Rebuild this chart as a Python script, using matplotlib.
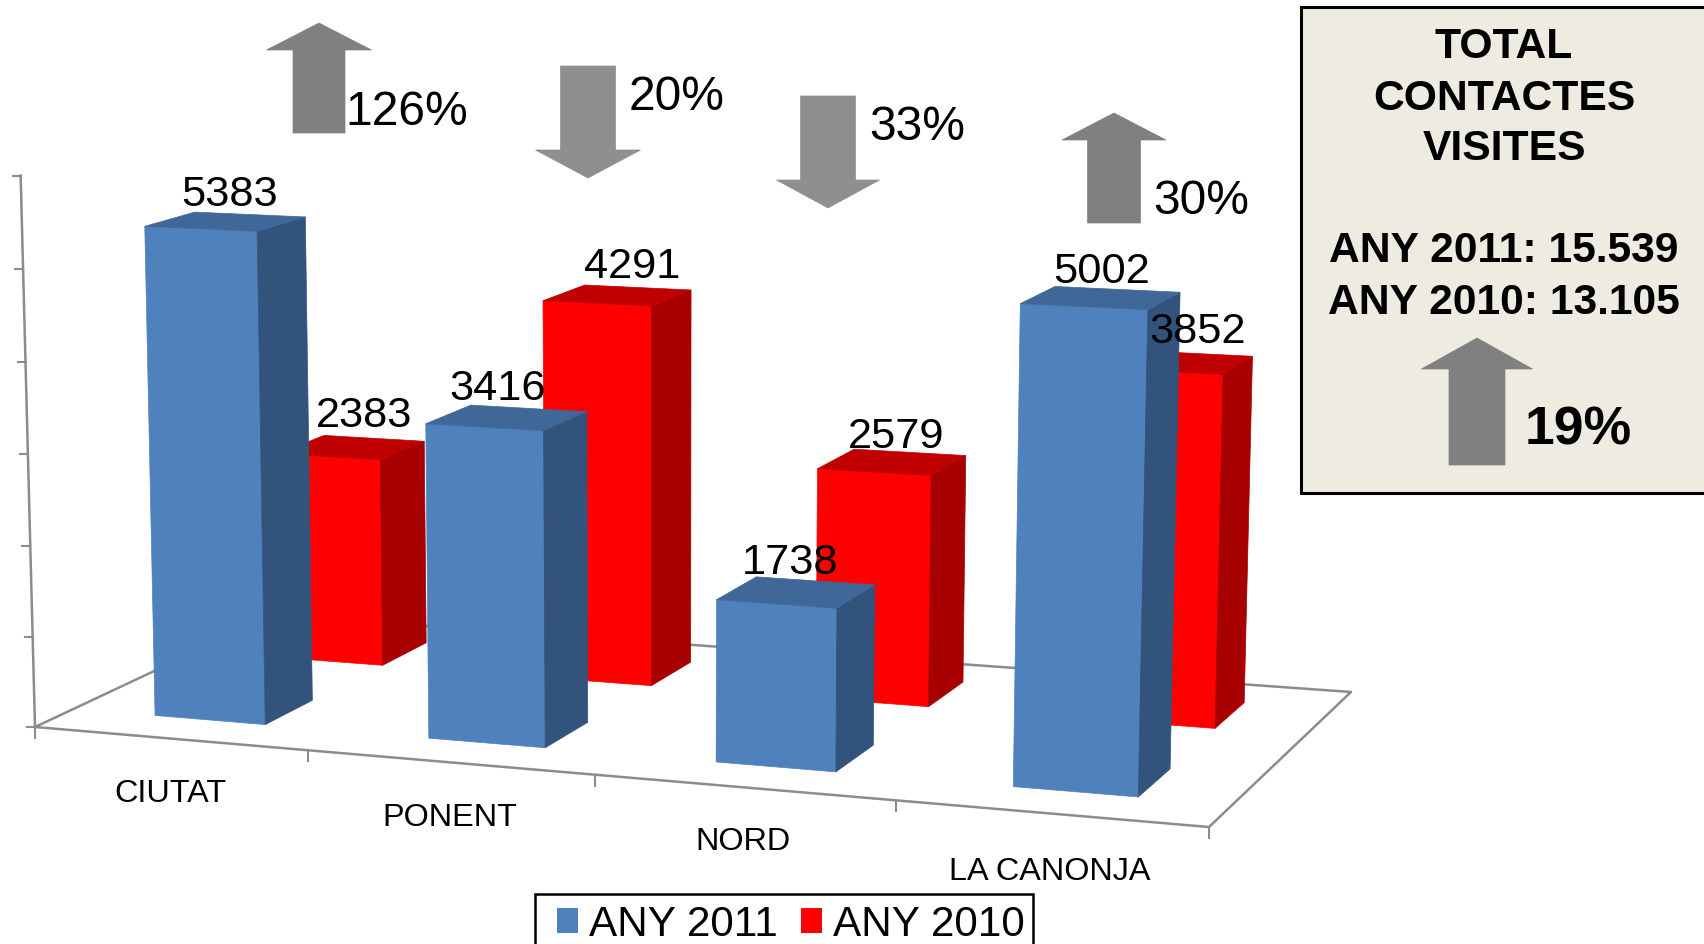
import numpy as np
import matplotlib
matplotlib.use("Agg")
import matplotlib.pyplot as plt
from matplotlib.patches import Polygon, Rectangle

plt.rcParams['font.family'] = ['Liberation Sans', 'DejaVu Sans']

categories = ["CIUTAT", "PONENT", "NORD", "LA CANONJA"]
values_2011 = [5383, 3416, 1738, 5002]
values_2010 = [2383, 4291, 2579, 3852]
series_names = ["ANY 2011", "ANY 2010"]
changes = ["126%", "20%", "33%", "30%"]
change_up = [True, False, False, True]
panel_lines = ["TOTAL", "CONTACTES", "VISITES", "ANY 2011: 15.539", "ANY 2010: 13.105"]
panel_change = "19%"
z_ticks = [0, 1000, 2000, 3000, 4000, 5000, 6000]

# floor and vertical axis of the fake 3d box, in pixels
H = np.array([[259.966, 266.993, 35.0],
              [2.0613, -47.929, 727.0],
              [-0.027737, 0.104181, 1.0]])
Z_COL = np.array([-0.00242928, -0.0910994, -3.6555e-06])

BLUE = ("#4f81bd", "#32537c", "#3f6797")
RED = ("#ff0000", "#a60000", "#c00000")
AXIS_GREY = "#8c8c8c"
TEXT_DY = 3.5  # Liberation sits a bit high with va=center


def project(u, v, z=0):
    # the original gets slightly less tall to the right than a pure projection
    z = z * (1.016 - 0.0075 * u)
    p = H @ np.array([u, v, 1.0]) + z * Z_COL
    return p[0] / p[2], p[1] / p[2]


def draw_bar(ax, u0, u1, value, v0, v1, colors):
    front = [project(u0, v0), project(u1, v0), project(u1, v0, value), project(u0, v0, value)]
    side = [project(u1, v0), project(u1, v1), project(u1, v1, value), project(u1, v0, value)]
    top = [project(u0, v0, value), project(u1, v0, value), project(u1, v1, value), project(u0, v1, value)]
    for pts, col in zip([front, side, top], colors):
        ax.add_patch(Polygon(pts, closed=True, facecolor=col, edgecolor=col, linewidth=0.5))
    return project((u0 + u1) / 2, (v0 + v1) / 2, value)


def draw_arrow(ax, cx, y_tip, y_neck, y_end, head_w, shaft_w, color):
    pts = [(cx, y_tip), (cx + head_w / 2, y_neck), (cx + shaft_w / 2, y_neck),
           (cx + shaft_w / 2, y_end), (cx - shaft_w / 2, y_end), (cx - shaft_w / 2, y_neck),
           (cx - head_w / 2, y_neck)]
    ax.add_patch(Polygon(pts, closed=True, facecolor=color, edgecolor=color, linewidth=0.5, zorder=3))


fig = plt.figure(figsize=(17.04, 9.44), dpi=100)
ax = fig.add_axes([0, 0, 1, 1])
ax.set_xlim(0, 1704)
ax.set_ylim(944, 0)
ax.axis("off")

# floor outline
floor = [project(0, 0), project(4, 0), project(4, 1), project(0, 1), project(0, 0)]
ax.plot(*zip(*floor), color=AXIS_GREY, lw=1.8, zorder=1)

# vertical axis and its ticks
ax.plot(*zip(project(0, 0, z_ticks[0]), project(0, 0, z_ticks[-1])), color=AXIS_GREY, lw=1.8, zorder=1)
for z in z_ticks:
    x, y = project(0, 0, z)
    ax.plot([x - 8, x], [y, y], color=AXIS_GREY, lw=1.5, zorder=1)

# category ticks
for u in [0, 1.015, 2.027, 3.022, 4]:
    x, y = project(u, 0)
    ax.plot([x, x], [y, y + 11], color=AXIS_GREY, lw=1.5, zorder=1)

blue_u = [(0.312, 0.727), (1.326, 1.74), (2.331, 2.733), (3.312, 3.708)]
red_u = [(0.340, 0.735), (1.353, 1.748), (2.342, 2.737), (3.31, 3.705)]

# red row sits behind the blue one
tops_2010 = [draw_bar(ax, *red_u[i], val, 0.655, 0.86, RED) for i, val in enumerate(values_2010)]
tops_2011 = [draw_bar(ax, *blue_u[i], val, 0.15, 0.35, BLUE) for i, val in enumerate(values_2011)]

offs_2011 = [(4, -30), (-9, -32), (-6, -33), (1, -29)]
offs_2010 = [(12, -35), (15, -32), (4, -29), (20, -34)]
for tops, vals, offs in [(tops_2010, values_2010, offs_2010), (tops_2011, values_2011, offs_2011)]:
    for (x, y), val, (dx, dy) in zip(tops, vals, offs):
        ax.text(x + dx, y + dy + TEXT_DY, str(val), fontsize=31.2, ha="center", va="center", zorder=5)

cat_pos = [(170, 790), (450, 815), (743, 839), (1050, 868)]
for name, (x, y) in zip(categories, cat_pos):
    ax.text(x, y + TEXT_DY, name, fontsize=23.3, ha="center", va="center")

# change arrows above the bars
arrow_geo = [(319, 23, 50, 133, 105, 52), (588, 178, 150, 66, 105, 55),
             (828, 208, 180, 96, 103, 55), (1114, 113, 140, 223, 104, 53)]
change_pos = [(407, 109), (677, 94), (917, 124), (1201, 198)]
for txt, up, geo, (x, y) in zip(changes, change_up, arrow_geo, change_pos):
    draw_arrow(ax, *geo, "#808080" if up else "#8f8f8f")
    ax.text(x, y + TEXT_DY, txt, fontsize=34.6, ha="center", va="center", zorder=4)

# totals panel
ax.add_patch(Rectangle((1301, 7), 420, 486, facecolor="#eeece1", edgecolor="black", lw=2.2, zorder=2))
panel_y = [43, 95, 146, 248, 300]
for line, y in zip(panel_lines, panel_y):
    ax.text(1504, y + TEXT_DY, line, fontsize=30.7, fontweight="bold", ha="center", va="center", zorder=4)
draw_arrow(ax, 1477, 338, 369, 465, 111, 56, "#808080")
ax.text(1578, 426 + TEXT_DY + 1, panel_change, fontsize=38.5, fontweight="bold", ha="center", va="center", zorder=4)

# legend, box cut off by the bottom edge
ax.add_patch(Rectangle((535, 894), 498, 70, facecolor="white", edgecolor="black", lw=1.8, zorder=2))
handles = [Rectangle((0, 0), 1, 1, facecolor=BLUE[0]), Rectangle((0, 0), 1, 1, facecolor=RED[0])]
leg = ax.legend(handles, series_names, ncol=2, fontsize=30.4, loc="upper left",
                bbox_to_anchor=(557, 904.5), bbox_transform=ax.transData, frameon=False,
                borderaxespad=0, borderpad=0, handlelength=0.5, handleheight=0.5,
                handletextpad=0.26, columnspacing=0.55)

fig.savefig("out.png", dpi=100)
